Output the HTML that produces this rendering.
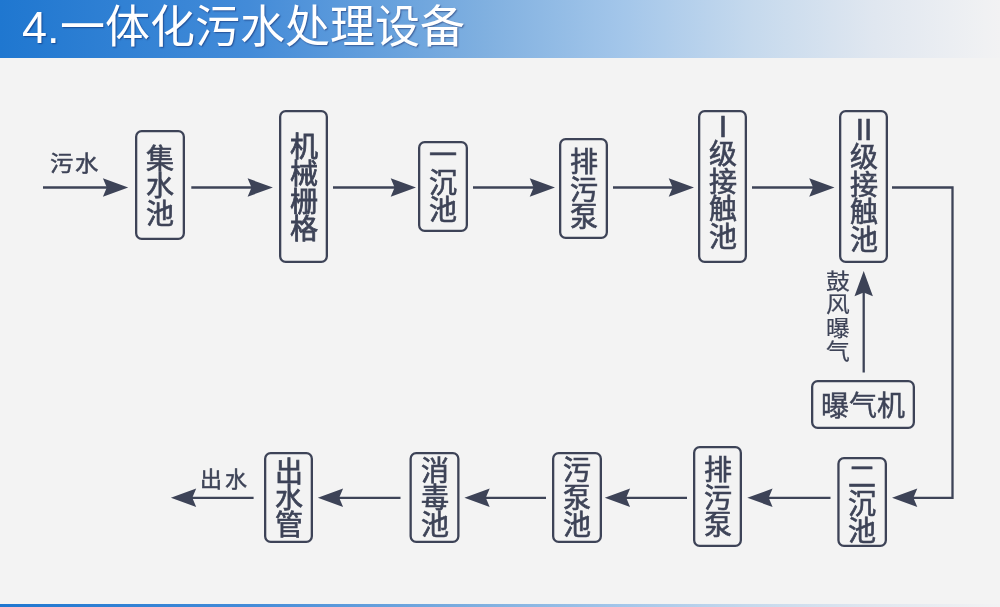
<!DOCTYPE html>
<html lang="zh-CN"><head><meta charset="utf-8">
<style>
html,body{margin:0;padding:0}
body{width:1000px;height:607px;overflow:hidden;position:relative;background:#f3f3f3;font-family:"Liberation Sans",sans-serif;color:#3d4357}
.hdr{position:absolute;left:0;top:0;width:1000px;height:58px;background:linear-gradient(90deg,rgb(31,119,208) 0%,rgb(67,139,216) 24.8%,rgb(128,176,224) 48.5%,rgb(163,198,234) 62.2%,rgb(197,217,237) 75%,rgb(224,231,240) 87.5%,rgb(240,241,243) 98.5%,rgb(242,242,243) 100%)}
.title{position:absolute;will-change:transform;left:22px;top:-2.5px;font-size:45px;letter-spacing:0px;line-height:60px;color:#fff;white-space:nowrap;text-shadow:1px 1px 1.5px rgba(0,10,70,.45)}
.ftr{position:absolute;left:0;top:604px;width:1000px;height:3px;background:linear-gradient(90deg,rgb(31,119,208) 0%,rgb(67,139,216) 24.8%,rgb(128,176,224) 48.5%,rgb(163,198,234) 62.2%,rgb(197,217,237) 75%,rgb(224,231,240) 87.5%,rgb(240,241,243) 98.5%,rgb(242,242,243) 100%)}
svg{position:absolute;left:0;top:0}
svg line,svg polyline,svg rect{stroke:#3d4357;stroke-width:2.3;fill:none}
svg .h{fill:#3d4357;stroke:none}
.box{position:absolute;will-change:transform;display:flex;flex-direction:column;align-items:center;justify-content:center}
.box span{display:block;font-size:28px}
.lbl{position:absolute;will-change:transform;font-size:22px;line-height:24px;white-space:nowrap;-webkit-text-stroke:0.5px #3d4357}
</style></head><body>
<div class="hdr"></div>
<div class="title">4.一体化污水处理设备</div>
<svg width="1000" height="607" viewBox="0 0 1000 607"><line x1="43" y1="187.5" x2="107.8" y2="187.5"/><path class="h" d="M128.2,187.5 L102.9,178.3 L106.8,187.5 L102.9,196.7 Z"/><line x1="191.3" y1="187.5" x2="252.5" y2="187.5"/><path class="h" d="M272.9,187.5 L247.6,178.3 L251.5,187.5 L247.6,196.7 Z"/><line x1="333" y1="187.5" x2="395.6" y2="187.5"/><path class="h" d="M416,187.5 L390.7,178.3 L394.6,187.5 L390.7,196.7 Z"/><line x1="473" y1="187.5" x2="534.6" y2="187.5"/><path class="h" d="M555,187.5 L529.7,178.3 L533.6,187.5 L529.7,196.7 Z"/><line x1="613" y1="187.5" x2="673.6" y2="187.5"/><path class="h" d="M694,187.5 L668.7,178.3 L672.6,187.5 L668.7,196.7 Z"/><line x1="752" y1="187.5" x2="814.1" y2="187.5"/><path class="h" d="M834.5,187.5 L809.2,178.3 L813.1,187.5 L809.2,196.7 Z"/><polyline fill="none" points="892,187.5 952.5,187.5 952.5,497.8 912.4,497.8"/><path class="h" d="M892,497.8 L917.3,488.6 L913.4,497.8 L917.3,507.0 Z"/><line x1="863.7" y1="372.5" x2="863.7" y2="291.4"/><path class="h" d="M863.7,271 L854.5,296.3 L863.7,292.4 L872.9,296.3 Z"/><line x1="830.5" y1="497.8" x2="767.7" y2="497.8"/><path class="h" d="M747.3,497.8 L772.6,488.6 L768.7,497.8 L772.6,507.0 Z"/><line x1="687" y1="497.8" x2="625.2" y2="497.8"/><path class="h" d="M604.8,497.8 L630.1,488.6 L626.2,497.8 L630.1,507.0 Z"/><line x1="546" y1="497.8" x2="484.8" y2="497.8"/><path class="h" d="M464.4,497.8 L489.7,488.6 L485.8,497.8 L489.7,507.0 Z"/><line x1="400.5" y1="497.8" x2="338.2" y2="497.8"/><path class="h" d="M317.8,497.8 L343.1,488.6 L339.2,497.8 L343.1,507.0 Z"/><line x1="253.6" y1="497.8" x2="191.3" y2="497.8"/><path class="h" d="M170.9,497.8 L196.2,488.6 L192.3,497.8 L196.2,507.0 Z"/><rect x="136.15" y="131.15" width="47.7" height="107.7" rx="5.5"/><rect x="280.15" y="111.15" width="46.7" height="150.7" rx="5.5"/><rect x="419.15" y="142.15" width="47.7" height="88.7" rx="5.5"/><rect x="560.15" y="139.15" width="46.7" height="98.7" rx="5.5"/><rect x="699.15" y="111.15" width="46.7" height="150.7" rx="5.5"/><rect x="840.15" y="111.15" width="46.7" height="150.7" rx="5.5"/><rect x="838.45" y="458.15" width="47.4" height="87.7" rx="5.5"/><rect x="694.15" y="447.15" width="46.7" height="98.7" rx="5.5"/><rect x="553.15" y="453.15" width="47.7" height="88.7" rx="5.5"/><rect x="410.65" y="453.15" width="47.7" height="88.7" rx="5.5"/><rect x="265.15" y="453.15" width="46.7" height="88.7" rx="5.5"/><rect x="812.15" y="381.15" width="101.7" height="46.7" rx="5.5"/></svg>
<div class="box" style="left:135px;top:131.6px;width:50px;height:110px;-webkit-text-stroke:0.65px #3d4357"><span style="line-height:27.5px;height:27.5px">集</span><span style="line-height:27.5px;height:27.5px">水</span><span style="line-height:27.5px;height:27.5px">池</span></div><div class="box" style="left:279px;top:111.5px;width:49px;height:153px;-webkit-text-stroke:0.8px #3d4357"><span style="line-height:27.5px;height:27.5px">机</span><span style="line-height:27.5px;height:27.5px">械</span><span style="line-height:27.5px;height:27.5px">栅</span><span style="line-height:27.5px;height:27.5px">格</span></div><div class="box" style="left:418px;top:137.5px;width:50px;height:91px;-webkit-text-stroke:0.65px #3d4357"><span style="line-height:27.5px;height:27.5px">一</span><span style="line-height:27.5px;height:27.5px">沉</span><span style="line-height:27.5px;height:27.5px">池</span></div><div class="box" style="left:559px;top:140.0px;width:49px;height:101px;-webkit-text-stroke:0.65px #3d4357"><span style="line-height:27.5px;height:27.5px">排</span><span style="line-height:27.5px;height:27.5px">污</span><span style="line-height:27.5px;height:27.5px">泵</span></div><div class="box" style="left:698px;top:105.7px;width:49px;height:153px;-webkit-text-stroke:0.65px #3d4357"><span style="line-height:27.5px;height:27.5px">Ⅰ</span><span style="line-height:27.5px;height:27.5px">级</span><span style="line-height:27.5px;height:27.5px">接</span><span style="line-height:27.5px;height:27.5px">触</span><span style="line-height:27.5px;height:27.5px">池</span></div><div class="box" style="left:839px;top:109.3px;width:49px;height:153px;-webkit-text-stroke:0.65px #3d4357"><span style="line-height:27.5px;height:27.5px">Ⅱ</span><span style="line-height:27.5px;height:27.5px">级</span><span style="line-height:27.5px;height:27.5px">接</span><span style="line-height:27.5px;height:27.5px">触</span><span style="line-height:27.5px;height:27.5px">池</span></div><div class="box" style="left:837.3px;top:458.5px;width:49.7px;height:90px;-webkit-text-stroke:0.65px #3d4357"><span style="line-height:27px;height:27px">二</span><span style="line-height:27px;height:27px">沉</span><span style="line-height:27px;height:27px">池</span></div><div class="box" style="left:693px;top:448.3px;width:49px;height:101px;-webkit-text-stroke:0.65px #3d4357"><span style="line-height:27.5px;height:27.5px">排</span><span style="line-height:27.5px;height:27.5px">污</span><span style="line-height:27.5px;height:27.5px">泵</span></div><div class="box" style="left:552px;top:452.8px;width:50px;height:91px;-webkit-text-stroke:0.65px #3d4357"><span style="line-height:27.5px;height:27.5px">污</span><span style="line-height:27.5px;height:27.5px">泵</span><span style="line-height:27.5px;height:27.5px">池</span></div><div class="box" style="left:409.5px;top:453.0px;width:50px;height:91px;-webkit-text-stroke:0.65px #3d4357"><span style="line-height:27px;height:27px">消</span><span style="line-height:27px;height:27px">毒</span><span style="line-height:27px;height:27px">池</span></div><div class="box" style="left:264px;top:453.7px;width:49px;height:91px;-webkit-text-stroke:0.7px #3d4357"><span style="line-height:26.5px;height:26.5px">出</span><span style="line-height:26.5px;height:26.5px">水</span><span style="line-height:26.5px;height:26.5px">管</span></div>
<div class="box" style="left:811px;top:382px;width:104px;height:49px;flex-direction:row;-webkit-text-stroke:0.45px #3d4357"><span style="line-height:28px">曝气机</span></div>
<div class="lbl" style="left:50px;top:152px;letter-spacing:1.5px;transform:scaleX(1.06);transform-origin:0 0">污水</div>
<div class="lbl" style="left:200px;top:468px;letter-spacing:3px">出水</div>
<div class="lbl" style="left:826px;top:270px;width:24px;line-height:23.3px;white-space:normal;transform:scaleX(1.08);transform-origin:0 0;-webkit-text-stroke:0.2px #3d4357">鼓风曝气</div>
<div class="ftr"></div>
</body></html>
